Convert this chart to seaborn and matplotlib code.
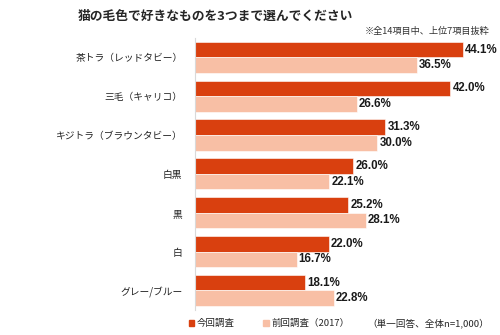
import matplotlib
matplotlib.use("Agg")
import matplotlib.pyplot as plt
import seaborn as sns
import pandas as pd
from matplotlib.patches import Patch

categories = ["茶トラ（レッドタビー）", "三毛（キャリコ）", "キジトラ（ブラウンタビー）", "白黒", "黒", "白", "グレー/ブルー"]
current = [44.1, 42.0, 31.3, 26.0, 25.2, 22.0, 18.1]
previous = [36.5, 26.6, 30.0, 22.1, 28.1, 16.7, 22.8]
series = ["今回調査", "前回調査（2017）"]
colors = ["#D9400F", "#F8BFA5"]

sns.set_theme(style="white")
plt.rcParams['font.family'] = ['Noto Sans CJK JP', 'DejaVu Sans']

df = pd.DataFrame({
    "cat": categories * 2,
    "val": current + previous,
    "series": [series[0]] * len(categories) + [series[1]] * len(categories),
})

fig = plt.figure(figsize=(5, 3.35), dpi=100)
ax = fig.add_axes([0.39, 0.075, 0.608, 0.812])
sns.barplot(data=df, x="val", y="cat", hue="series", palette=colors, orient="h",
            width=0.8, ax=ax, legend=False, saturation=1, edgecolor="white", linewidth=0.4)

for cont in ax.containers:
    ax.bar_label(cont, labels=[f"{v:.1f}%" for v in cont.datavalues], padding=1.5,
                 fontsize=8.3, fontweight="bold", color="#1a1a1a", family=["Arimo", "Liberation Sans", "DejaVu Sans"])

ax.set_xlim(0, 50)
ax.set_xlabel("")
ax.set_ylabel("")
ax.set_xticks([])
ax.tick_params(axis="y", length=0, labelsize=7, pad=9, labelcolor="#222222")
for s in ["top", "right", "bottom"]:
    ax.spines[s].set_visible(False)
ax.spines["left"].set_color("#D9D9D9")
ax.spines["left"].set_linewidth(0.8)

fig.text(0.156, 0.95, "猫の毛色で好きなものを3つまで選んでください", fontsize=9.2, fontweight="bold", va="center", ha="left")
fig.text(0.98, 0.905, "※全14項目中、上位7項目抜粋", fontsize=6.6, va="center", ha="right", color="#333333")

handles = [Patch(color=c, label=s) for c, s in zip(colors, series)]
fig.legend(handles=handles, loc="center left", bbox_to_anchor=(0.36, 0.035), ncol=2, frameon=False,
           fontsize=6.8, handlelength=0.6, handleheight=0.6, handletextpad=0.3, columnspacing=3.0)
fig.text(0.978, 0.035, "（単一回答、全体n=1,000）", fontsize=6.9, va="center", ha="right")

fig.savefig("out.png", dpi=100)
